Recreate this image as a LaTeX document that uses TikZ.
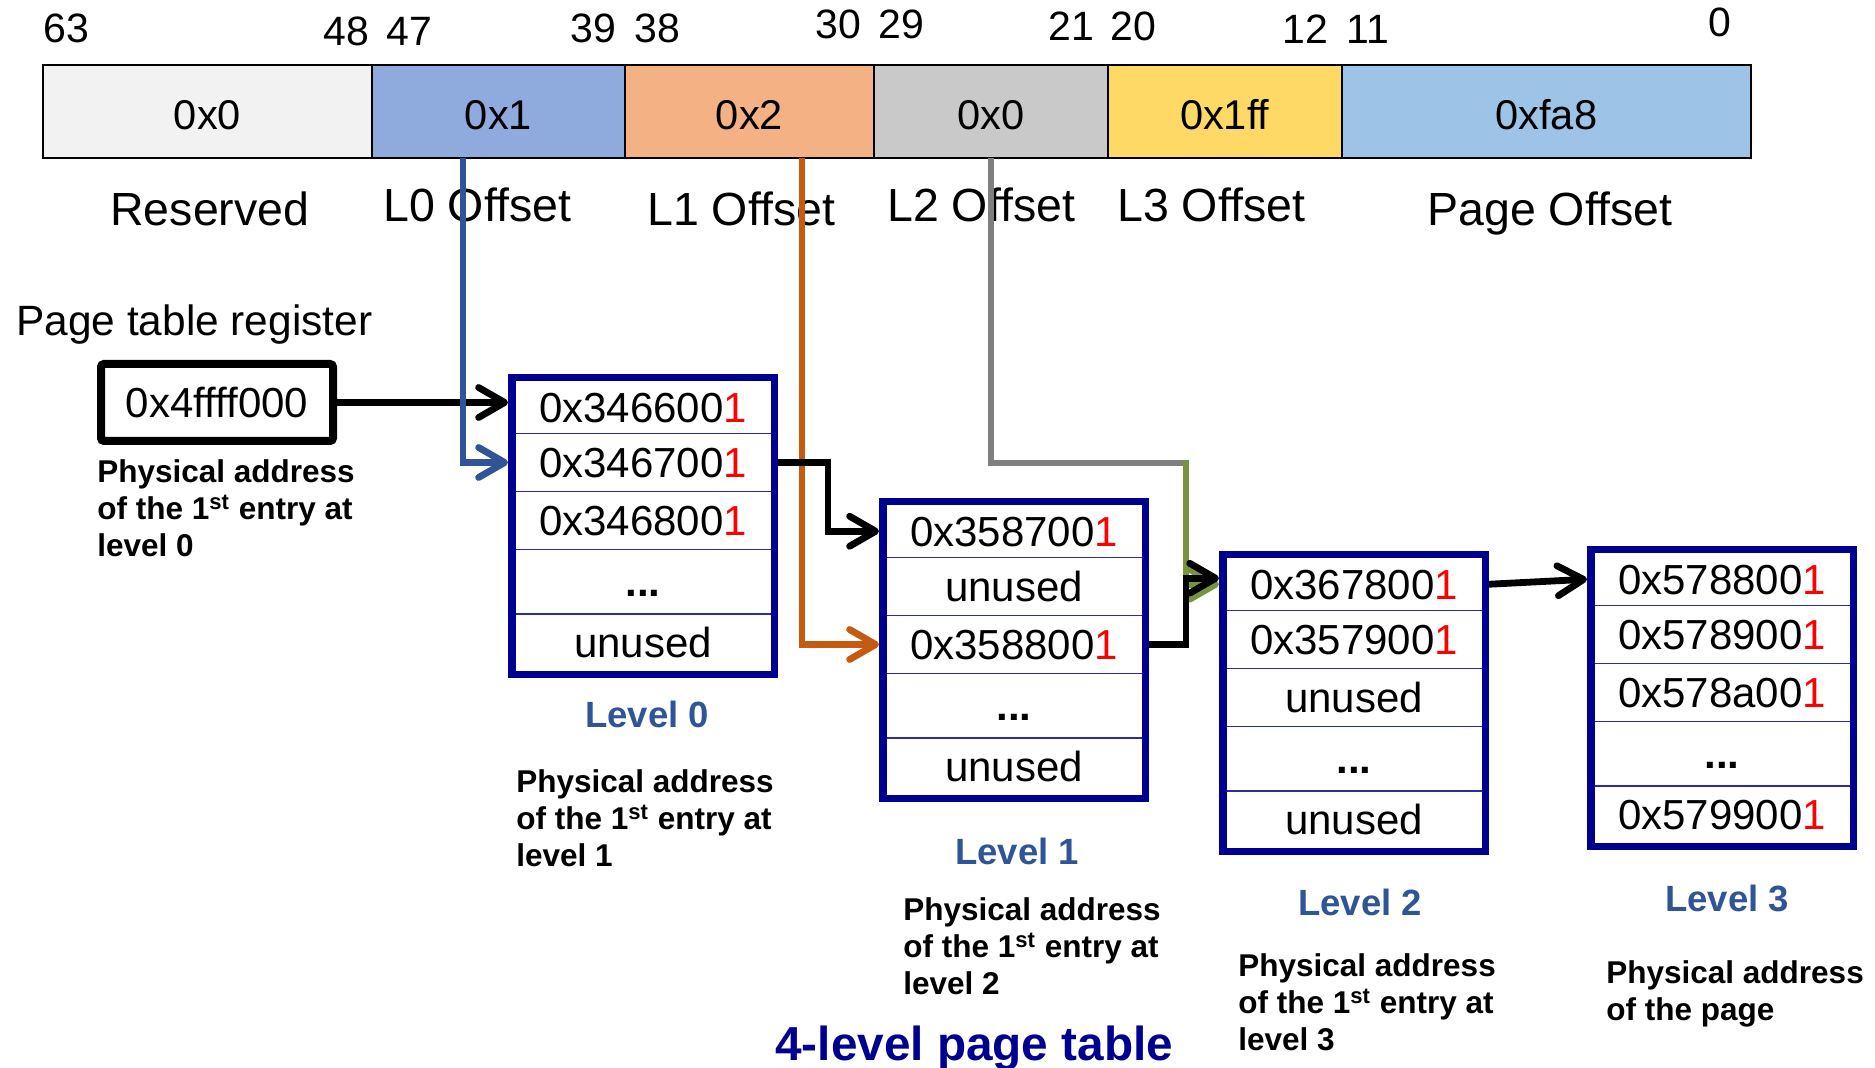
\documentclass[tikz,border=0pt]{standalone}
\usepackage{fontspec}
\setmainfont{Liberation Sans}
\usetikzlibrary{arrows.meta}
\definecolor{cRes}{HTML}{F2F2F2}
\definecolor{cLz}{HTML}{8FAADC}
\definecolor{cLo}{HTML}{F4B183}
\definecolor{cLt}{HTML}{C9C9C9}
\definecolor{cLh}{HTML}{FFD966}
\definecolor{cPg}{HTML}{9DC3E6}
\definecolor{lnBlue}{HTML}{2F5597}
\definecolor{lnOrange}{HTML}{C55A11}
\definecolor{lnGray}{HTML}{7F7F7F}
\definecolor{lnGreen}{HTML}{77933C}
\definecolor{navyT}{HTML}{000090}
\definecolor{sepBlue}{HTML}{2B2BA6}
\definecolor{bitRed}{HTML}{FF0000}
\newcommand\ent[1]{#1\textcolor{bitRed}{1}}
\newcommand\pttable[8]{%
 \begin{scope}[shift={(#2,#3)}]
  \draw[tblborder] (3.75,3.75) rectangle (266.25,300.75);
  \draw[rowsep] (7.5,59.5) -- (262.5,59.5) (7.5,117.5) -- (262.5,117.5)
                (7.5,175.5) -- (262.5,175.5) (7.5,240) -- (262.5,240);
  \node[rowc] (#1r1) at (135,33.25) {#4};
  \node[rowc] (#1r2) at (135,88.5) {#5};
  \node[rowc] (#1r3) at (135,146.5) {#6};
  \node[rowc] (#1r4) at (135,207.75) {#7};
  \node[rowc] (#1r5) at (135,268.5) {#8};
 \end{scope}}
\newcommand\notetext[1]{\begin{tabular}[t]{@{}l@{}}#1\end{tabular}}
\tikzset{
 seg/.style={draw=black, line width=1pt, inner sep=0pt, outer sep=0pt, minimum height=46.5pt,
   font=\fontsize{20.8}{24}\selectfont, text height=17.9pt, text depth=0pt},
 bitnum/.style={anchor=base west, inner sep=0pt, font=\fontsize{20.5}{24}\selectfont},
 fieldlbl/.style={anchor=base west, inner sep=0pt, font=\fontsize{23.25}{28}\selectfont},
 rowc/.style={inner sep=0pt, outer sep=0pt, minimum width=135pt,
   font=\fontsize{21}{25}\selectfont, text height=15pt, text depth=0pt},
 tblborder/.style={draw=navyT, line width=3.75pt},
 rowsep/.style={draw=sepBlue, line width=0.8pt},
 regbox/.style={draw=black, line width=4pt, rounded corners=1.5pt, inner sep=0pt,
   minimum width=116pt, minimum height=38.5pt, font=\fontsize{21}{25}\selectfont},
 lvl/.style={anchor=base, inner sep=0pt, text=lnBlue, font=\fontsize{18.25}{22}\selectfont\bfseries},
 note/.style={anchor=base west, inner sep=0pt, font=\fontsize{15.75}{18.5}\selectfont\bfseries},
 conn/.style={line width=3.4pt, -{Straight Barb[length=13pt,width=15pt,round]}},
 plainln/.style={line width=3.4pt},
}
\begin{document}
\begin{tikzpicture}[x=0.5pt,y=-0.5pt]
\useasboundingbox (0,0) rectangle (1875,1068);
% bit numbers
\node[bitnum] (n63) at (43,43) {63};
\node[bitnum] (n48) at (323,46) {48};
\node[bitnum] (n47) at (386,46) {47};
\node[bitnum] (n39) at (570,43) {39};
\node[bitnum] (n38) at (634,43) {38};
\node[bitnum] (n30) at (815,39) {30};
\node[bitnum] (n29) at (878,39) {29};
\node[bitnum] (n21) at (1048,41) {21};
\node[bitnum] (n20) at (1110,41) {20};
\node[bitnum] (n12) at (1282,44) {12};
\node[bitnum] (n11) at (1346,44) {11};
\node[bitnum] (n00) at (1708,37) {0};
% address bar
\node[seg, fill=cRes, minimum width=164.5pt] (sRes) at (207.5,111.5) {0x0};
\node[seg, fill=cLz, minimum width=126.5pt] (sLz) at (498.5,111.5) {0x1};
\node[seg, fill=cLo, minimum width=124.5pt] (sLo) at (749.5,111.5) {0x2};
\node[seg, fill=cLt, minimum width=117pt] (sLt) at (991,111.5) {0x0};
\node[seg, fill=cLh, minimum width=116.75pt] (sLh) at (1224.75,111.5) {0x1ff};
\node[seg, fill=cPg, minimum width=204.75pt] (sPg) at (1546.25,111.5) {0xfa8};
% field labels
\node[fieldlbl] (fRes) at (110,226) {Reserved};
\node[fieldlbl] (fLz) at (383,222) {L0 Offset};
\node[fieldlbl] (fLo) at (647,226) {L1 Offset};
\node[fieldlbl] (fLt) at (887,222) {L2 Offset};
\node[fieldlbl] (fLh) at (1117,222) {L3 Offset};
\node[fieldlbl] (fPg) at (1427,226) {Page Offset};
% register
\node[anchor=base west, inner sep=0pt, font=\fontsize{21.2}{25}\selectfont] (ptr) at (16,336) {Page table register};
\node[regbox] (reg) at (217,402.5) {0x4ffff000};
\node[note] (nreg) at (97,483) {\notetext{Physical address\\of the 1\textsuperscript{st} entry at\\level 0}};
% tables
\pttable{T0}{508}{374}{\ent{0x346600}}{\ent{0x346700}}{\ent{0x346800}}{\bfseries ...}{unused}
\pttable{T1}{879}{498}{\ent{0x358700}}{unused}{\ent{0x358800}}{\bfseries ...}{unused}
\pttable{T2}{1219}{551}{\ent{0x367800}}{\ent{0x357900}}{unused}{\bfseries ...}{unused}
\pttable{T3}{1587}{546}{\ent{0x578800}}{\ent{0x578900}}{\ent{0x578a00}}{\bfseries ...}{\ent{0x579900}}
% level labels and notes
\node[lvl] (lv0) at (647,728) {Level 0};
\node[lvl] (lv1) at (1017,865) {Level 1};
\node[lvl] (lv2) at (1360,916) {Level 2};
\node[lvl] (lv3) at (1727,912) {Level 3};
\node[note] (nt0) at (516,793) {\notetext{Physical address\\of the 1\textsuperscript{st} entry at\\level 1}};
\node[note] (nt1) at (903,921) {\notetext{Physical address\\of the 1\textsuperscript{st} entry at\\level 2}};
\node[note] (nt2) at (1238,977) {\notetext{Physical address\\of the 1\textsuperscript{st} entry at\\level 3}};
\node[note] (nt3) at (1606,984) {\notetext{Physical address\\of the page}};
\node[anchor=base west, inner sep=0pt, text=navyT, font=\fontsize{23.85}{28}\selectfont\bfseries] (title) at (775,1060) {4-level page table};
% connectors
\coordinate (pB) at (463,158);
\coordinate (pO) at (802,158);
\coordinate (pG) at (991,158);
\coordinate (gBend) at (1186,463);
\coordinate (kA) at (828,0);
\coordinate (kB) at (1186,0);
\draw[conn] (reg.east) -- (reg.east -| T0r1.west);
\draw[conn, lnBlue] (pB) |- (T0r2.west);
\draw[conn, lnOrange] (pO) |- (T1r3.west);
\draw[conn] (T0r2.east) -- (T0r2.east -| kA) |- (T1r1.west);
\draw[plainln, lnGray] (pG) |- (gBend);
\draw[conn, lnGreen] ([yshift=1.7pt]gBend) |- (T2r1.west);
\draw[conn] (T1r3.east) -- (T1r3.east -| kB) |- ([yshift=3pt]T2r1.west);
\draw[conn] (T2r1.east) -- (T3r1.west);
\end{tikzpicture}
\end{document}
